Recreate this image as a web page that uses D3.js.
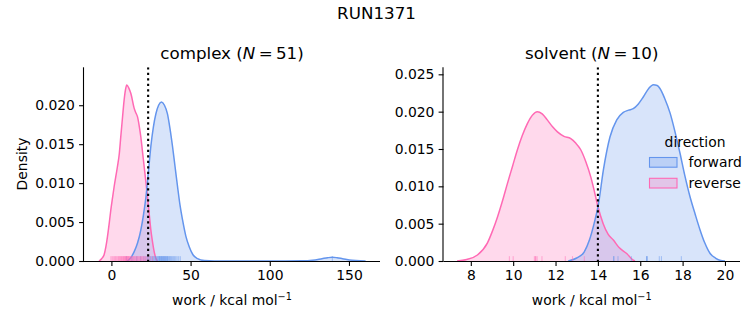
<!DOCTYPE html>
<html><head><meta charset="utf-8">
<script src="https://cdn.jsdelivr.net/npm/d3@7"></script>
<style>
body{margin:0;background:#fff;}
text{font-family:"DejaVu Sans",sans-serif;fill:#000;}
</style></head>
<body><svg id="c" width="753" height="325"></svg>
<script>
// ---------- data ----------
const suptitle = "RUN1371";
const directions = ["forward", "reverse"];
const colors = {forward: "#6495ED", reverse: "#FF69B4"};

// complex panel: KDE curves [work, density]
const complexForward = [[10.1,0],[12.5,0.0005],[14.4,0.0012],[16.5,0.0023],[18.6,0.004],[20.3,0.006],[21.8,0.0082],[23.4,0.0115],[24.9,0.0147],[26.5,0.0172],[28.1,0.0189],[29.8,0.0200],[31.6,0.0204],[33.5,0.0200],[35.4,0.0189],[37.0,0.0170],[38.6,0.0147],[40.2,0.0121],[41.8,0.0095],[43.3,0.0072],[44.9,0.0053],[47.0,0.0032],[49.2,0.0018],[51.5,0.0008],[54.4,0.0003],[58.7,0.00005],[65,0],[110,0],[120,0.00002],[127,0.0001],[133,0.0003],[136.5,0.00042],[139.5,0.00048],[142.5,0.00042],[146,0.0003],[152,0.0001],[157,0.00002],[160.5,0]];
const complexReverse = [[-7.8,0],[-6.2,0.0003],[-4.6,0.0008],[-3.5,0.0018],[-2.5,0.0031],[-1.4,0.0048],[-0.4,0.0065],[0.7,0.0081],[1.7,0.0095],[3.8,0.0121],[5.0,0.0138],[5.9,0.0159],[7.0,0.0184],[8.0,0.0206],[8.9,0.0220],[9.7,0.0226],[11.0,0.0222],[12.3,0.0215],[14.4,0.0196],[15.5,0.0190],[16.5,0.0185],[17.6,0.0173],[18.6,0.0159],[19.6,0.0141],[20.7,0.0121],[21.8,0.0101],[22.8,0.0082],[23.9,0.0060],[24.9,0.0040],[26.0,0.0024],[27.0,0.0012],[28.0,0.0004],[29.1,0]];
const complexForwardRug = [9.5,13.0,16.0,18.5,20.5,21.8,22.8,23.6,24.4,25.1,25.8,26.4,27.0,27.6,28.1,28.6,29.1,29.6,30.0,30.4,30.8,31.2,31.6,32.0,32.4,32.8,33.2,33.6,34.0,34.4,34.8,35.2,35.7,36.2,36.7,37.2,37.7,38.2,38.8,39.4,40.0,40.7,41.5,42.5,43.5,30.2,31.4,32.6,33.9,35.5,139.5];
const complexReverseRug = [-0.3,0.5,1.2,2.0,2.6,3.3,4.0,4.5,5.1,5.6,6.0,6.4,6.9,7.3,7.7,8.0,8.4,8.7,9.0,9.3,9.6,9.9,10.2,10.5,10.8,11.1,11.5,11.9,12.3,12.7,13.1,13.6,14.0,14.5,15.0,15.5,16.0,16.4,16.9,17.4,17.9,18.4,19.0,19.6,20.2,20.9,21.6,22.4,23.3,24.5,26.0];

// solvent panel
const solventForward = [[12.6,0],[13.0,0.0004],[13.35,0.0012],[13.6,0.0028],[13.82,0.005],[14.02,0.0075],[14.26,0.0122],[14.57,0.0166],[14.89,0.0189],[15.2,0.0199],[15.45,0.0202],[15.67,0.0204],[15.9,0.0210],[16.15,0.0220],[16.4,0.0231],[16.62,0.0236],[16.8,0.0235],[16.93,0.0231],[17.15,0.0218],[17.41,0.0198],[17.65,0.0172],[17.88,0.0144],[18.1,0.0115],[18.35,0.0086],[18.6,0.0062],[18.82,0.0042],[19.05,0.0024],[19.3,0.001],[19.55,0.0004],[19.76,0.0001],[20.0,0]];
const solventReverse = [[7.35,0],[7.8,0.0002],[8.31,0.0008],[8.78,0.0024],[9.02,0.004],[9.26,0.0059],[9.5,0.0081],[9.73,0.0104],[9.97,0.0127],[10.2,0.0149],[10.43,0.0168],[10.67,0.0184],[10.9,0.0195],[11.14,0.0200],[11.37,0.0197],[11.61,0.0189],[11.85,0.0180],[12.09,0.0173],[12.4,0.0167],[12.72,0.0164],[12.95,0.0158],[13.19,0.0149],[13.43,0.0133],[13.66,0.0113],[13.82,0.0095],[14.0,0.0073],[14.25,0.005],[14.48,0.0036],[14.73,0.0028],[15.0,0.0018],[15.36,0.001],[15.67,0.0001],[15.75,0]];
const solventForwardRug = [14.76,14.95,15.58,16.3,16.33,16.9,17.0,17.94,14.74,16.31];
const solventReverseRug = [9.82,10.0,11.0,11.07,11.13,11.36,12.46,12.8,13.36,11.05];

const complexTicksX = [0,50,100,150];
const complexTicksY = [0,0.005,0.010,0.015,0.020];
const solventTicksX = [8,10,12,14,16,18,20];
const solventTicksY = [0,0.005,0.010,0.015,0.020,0.025];
const complexRef = 23.2, solventRef = 14.0;

// ---------- drawing ----------
const svg = d3.select("#c");
svg.append("text").attr("x",376.5).attr("y",19).attr("text-anchor","middle").style("font-size","16.7px").text(suptitle);

function panel(o){
  const g = svg.append("g");
  const x = d3.scaleLinear().domain(o.xdom).range([o.left,o.right]);
  const y = d3.scaleLinear().domain(o.ydom).range([o.bottom,o.top]);
  const area = d3.area().x(d=>x(d[0])).y0(y(0)).y1(d=>y(d[1])).curve(d3.curveMonotoneX);
  const line = d3.line().x(d=>x(d[0])).y(d=>y(d[1])).curve(d3.curveMonotoneX);
  const clipId = "clip"+o.id;
  g.append("clipPath").attr("id",clipId).append("rect").attr("x",o.left).attr("y",o.top).attr("width",o.right-o.left).attr("height",o.bottom-o.top);
  const plot = g.append("g").attr("clip-path",`url(#${clipId})`);
  [["reverse",o.rev],["forward",o.fwd]].forEach(([k,d])=>{
    plot.append("path").datum(d).attr("d",area).attr("fill",colors[k]).attr("fill-opacity",0.25).attr("stroke","none");
  });
  [["reverse",o.rev],["forward",o.fwd]].forEach(([k,d])=>{
    plot.append("path").datum(d).attr("d",line).attr("fill","none").attr("stroke",colors[k]).attr("stroke-width",1.5);
  });
  // rugs
  const rh = (o.bottom-o.top)*0.025;
  [["forward",o.fwdRug],["reverse",o.revRug]].forEach(([k,d])=>{
    plot.selectAll(null).data(d).enter().append("line")
      .attr("x1",v=>x(v)).attr("x2",v=>x(v)).attr("y1",o.bottom).attr("y2",o.bottom-rh)
      .attr("stroke",colors[k]).attr("stroke-opacity",0.5).attr("stroke-width",1);
  });
  // reference line
  plot.append("line").attr("x1",x(o.ref)).attr("x2",x(o.ref)).attr("y1",o.top).attr("y2",o.bottom)
    .attr("stroke","#000").attr("stroke-width",2.1).attr("stroke-dasharray","2.1,3.4");
  // axes
  const xa = d3.axisBottom(x).tickValues(o.xt).tickFormat(d3.format("d")).tickSize(4.9).tickPadding(4.2);
  const ya = d3.axisLeft(y).tickValues(o.yt).tickFormat(d3.format(".3f")).tickSize(4.9).tickPadding(4.2);
  const gx = g.append("g").attr("transform",`translate(0,${o.bottom})`).call(xa);
  const gy = g.append("g").attr("transform",`translate(${o.left},0)`).call(ya);
  [gx,gy].forEach(a=>{
    a.select(".domain").attr("stroke","#000").attr("stroke-width",1.1);
    a.selectAll(".tick line").attr("stroke","#000").attr("stroke-width",1.1);
    a.selectAll(".tick text").style("font-family","DejaVu Sans").style("font-size","13.9px").attr("fill","#000");
  });
  gx.select(".domain").attr("d",`M${o.left},0.5H${o.right}`);
  gy.select(".domain").attr("d",`M-0.5,${o.bottom}V${o.top}`);
  // title
  const t = g.append("text").attr("x",(o.left+o.right)/2).attr("y",59).attr("text-anchor","middle").style("font-size","16.7px");
  t.append("tspan").text(o.name+" (");
  t.append("tspan").style("font-style","italic").text("N");
  t.append("tspan").text("\u2009=\u2009"+o.n+")");
  // xlabel
  const xl = g.append("text").attr("x",(o.left+o.right)/2).attr("y",305).attr("text-anchor","middle").style("font-size","13.9px");
  xl.append("tspan").text("work / kcal mol");
  xl.append("tspan").attr("dy",-5).style("font-size","9.7px").text("\u22121");
  return {x,y};
}

panel({id:1,name:"complex",n:51,xdom:[-17.3,169.6],ydom:[0,0.02487],left:84,right:380,top:67.3,bottom:261,
  fwd:complexForward,rev:complexReverse,fwdRug:complexForwardRug,revRug:complexReverseRug,ref:complexRef,xt:complexTicksX,yt:complexTicksY});
panel({id:2,name:"solvent",n:10,xdom:[6.71,20.71],ydom:[0,0.02594],left:443.5,right:740,top:67.3,bottom:261,
  fwd:solventForward,rev:solventReverse,fwdRug:solventForwardRug,revRug:solventReverseRug,ref:solventRef,xt:solventTicksX,yt:solventTicksY});

svg.append("text").attr("transform","translate(26.5,164) rotate(-90)").attr("text-anchor","middle").style("font-size","13.9px").text("Density");

// legend
const lg = svg.append("g");
lg.append("text").attr("x",695).attr("y",146.5).attr("text-anchor","middle").style("font-size","13.9px").text("direction");
directions.forEach((k,i)=>{
  lg.append("rect").attr("x",649.5).attr("y",157.5+i*20.8).attr("width",27.5).attr("height",9.7)
    .attr("fill",colors[k]).attr("fill-opacity",0.25).attr("stroke",colors[k]).attr("stroke-width",1.1);
  lg.append("text").attr("x",688.5).attr("y",166.8+i*20.8).style("font-size","13.9px").text(k);
});
</script></body></html>
